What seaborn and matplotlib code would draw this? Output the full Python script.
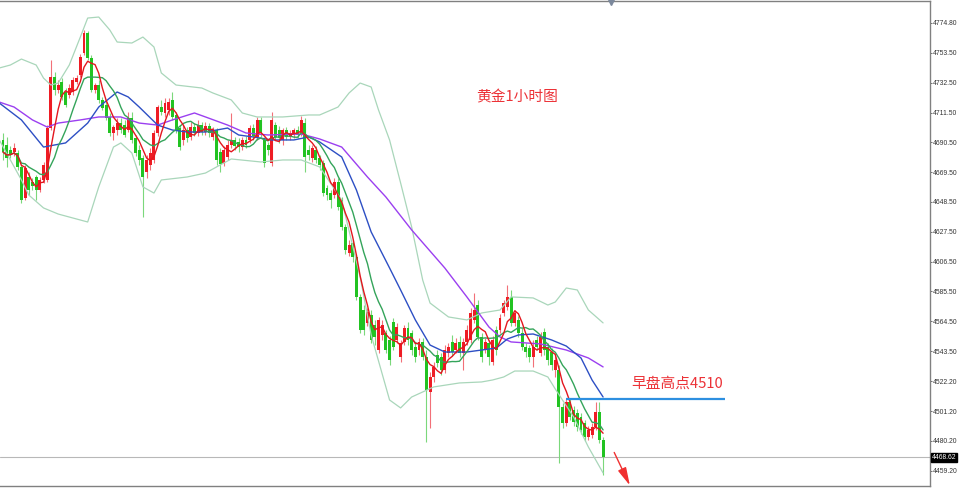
import numpy as np
import pandas as pd
import matplotlib
matplotlib.use("Agg")
import matplotlib.pyplot as plt
import matplotlib.transforms as mtransforms
import seaborn as sns

# gold 1h candles (price units)
opens = [4692.2, 4688.6, 4685.1, 4683.7, 4683.0, 4673.2, 4651.3, 4666.1, 4662.6, 4666.1,
         4656.9, 4664.0, 4664.0, 4700.6, 4736.6, 4727.4, 4733.0, 4726.0, 4723.9, 4726.0,
         4733.0, 4738.0, 4753.5, 4767.6, 4749.9, 4727.4, 4730.9, 4720.4, 4716.8, 4708.4,
         4697.1, 4699.2, 4704.1, 4702.7, 4699.2, 4707.7, 4693.6, 4685.1, 4679.5, 4669.6,
         4674.6, 4678.1, 4697.1, 4715.4, 4711.2, 4713.3, 4720.4, 4709.8, 4700.6, 4692.2,
         4699.2, 4694.3, 4701.3, 4697.1, 4702.7, 4697.8, 4702.0, 4694.3, 4699.2, 4683.7,
         4676.0, 4680.2, 4688.6, 4692.2, 4690.8, 4687.2, 4692.2, 4692.2, 4700.6, 4694.3,
         4706.3, 4692.2, 4688.6, 4676.0, 4702.7, 4699.2, 4692.2, 4699.2, 4694.3, 4695.7,
         4699.2, 4697.1, 4704.1, 4685.1, 4679.5, 4685.1, 4679.5, 4676.0, 4658.3, 4654.8,
         4653.4, 4662.6, 4649.9, 4630.9, 4612.6, 4619.6, 4609.7, 4581.6, 4572.4, 4563.3,
         4568.9, 4561.8, 4544.2, 4554.8, 4556.2, 4551.3, 4564.0, 4551.3, 4539.3, 4549.9,
         4559.7, 4556.2, 4546.3, 4544.2, 4549.9, 4539.3, 4514.6, 4525.2, 4540.7, 4539.3,
         4530.1, 4542.1, 4549.9, 4544.2, 4549.9, 4542.1, 4549.9, 4551.3, 4565.4, 4575.9,
         4553.4, 4544.2, 4549.2, 4535.8, 4558.3, 4558.3, 4570.3, 4574.5, 4581.6, 4563.3,
         4565.4, 4556.2, 4546.3, 4545.6, 4539.3, 4551.3, 4542.1, 4556.9, 4546.3, 4542.8,
         4530.1, 4530.1, 4504.1, 4492.8, 4507.6, 4502.0, 4499.8, 4497.0, 4492.8, 4482.9,
         4484.3, 4490.0, 4500.5, 4480.8]
highs = [4697.1, 4694.3, 4687.9, 4690.1, 4685.1, 4674.6, 4674.6, 4669.6, 4665.4, 4667.5,
         4666.1, 4676.7, 4702.7, 4748.5, 4740.1, 4734.4, 4735.8, 4728.8, 4731.6, 4736.6,
         4738.0, 4752.8, 4769.7, 4769.0, 4752.1, 4732.3, 4734.4, 4722.5, 4720.4, 4711.2,
         4702.7, 4707.7, 4707.7, 4706.3, 4711.9, 4711.9, 4695.7, 4688.6, 4681.6, 4681.6,
         4686.5, 4699.2, 4716.8, 4720.4, 4721.8, 4721.8, 4726.0, 4711.9, 4702.7, 4702.7,
         4701.3, 4704.9, 4704.1, 4706.3, 4704.9, 4704.9, 4704.1, 4701.3, 4700.6, 4686.5,
         4687.9, 4692.2, 4711.2, 4694.3, 4693.6, 4694.3, 4695.0, 4702.7, 4703.4, 4708.4,
         4708.4, 4694.3, 4690.8, 4711.9, 4704.9, 4702.0, 4700.6, 4701.3, 4699.2, 4700.6,
         4702.0, 4709.1, 4707.7, 4688.6, 4688.6, 4687.9, 4681.6, 4678.1, 4660.5, 4656.9,
         4665.4, 4665.4, 4652.0, 4633.0, 4621.7, 4621.7, 4611.9, 4583.7, 4575.9, 4573.8,
         4572.4, 4565.4, 4567.5, 4565.4, 4558.3, 4554.1, 4566.8, 4563.3, 4551.3, 4561.8,
         4564.0, 4558.3, 4549.2, 4552.7, 4552.7, 4544.2, 4528.7, 4535.8, 4544.2, 4542.1,
         4547.7, 4549.2, 4554.8, 4552.7, 4554.1, 4552.7, 4561.8, 4573.8, 4584.4, 4579.5,
         4556.2, 4552.7, 4551.3, 4554.1, 4561.1, 4569.6, 4579.5, 4590.0, 4586.5, 4572.4,
         4568.2, 4559.7, 4549.2, 4547.7, 4551.3, 4554.1, 4556.9, 4559.7, 4549.2, 4545.6,
         4540.7, 4533.7, 4506.9, 4510.4, 4510.4, 4504.8, 4502.7, 4499.8, 4494.9, 4490.7,
         4492.8, 4507.6, 4507.6, 4482.9]
lows = [4678.1, 4673.2, 4679.5, 4680.9, 4671.0, 4647.8, 4649.9, 4653.4, 4656.9, 4649.9,
        4655.5, 4661.9, 4662.6, 4699.2, 4723.9, 4725.3, 4720.4, 4715.4, 4721.8, 4723.9,
        4731.6, 4736.6, 4752.1, 4748.5, 4726.0, 4725.3, 4718.2, 4713.3, 4706.3, 4695.0,
        4692.2, 4695.7, 4697.1, 4694.3, 4697.8, 4690.1, 4680.9, 4674.6, 4637.9, 4665.4,
        4671.0, 4676.0, 4695.0, 4709.8, 4708.4, 4709.8, 4706.3, 4697.1, 4685.1, 4688.6,
        4690.8, 4692.2, 4695.0, 4695.0, 4695.7, 4695.7, 4694.3, 4692.2, 4674.6, 4669.6,
        4673.9, 4678.1, 4686.5, 4685.1, 4683.7, 4685.1, 4686.5, 4690.1, 4692.2, 4692.2,
        4694.3, 4673.2, 4681.6, 4673.9, 4692.2, 4690.1, 4688.6, 4692.2, 4692.2, 4693.6,
        4693.6, 4695.0, 4669.6, 4678.1, 4676.7, 4676.0, 4671.0, 4652.7, 4649.9, 4644.3,
        4651.3, 4642.9, 4628.8, 4611.9, 4610.5, 4606.2, 4579.5, 4556.2, 4554.8, 4561.1,
        4549.2, 4547.7, 4542.1, 4551.3, 4542.1, 4533.7, 4544.2, 4549.2, 4535.8, 4547.7,
        4547.7, 4540.7, 4535.8, 4540.7, 4537.2, 4479.4, 4489.3, 4521.7, 4532.2, 4526.6,
        4528.0, 4539.3, 4540.0, 4542.1, 4539.3, 4530.1, 4547.7, 4549.2, 4563.3, 4551.3,
        4535.8, 4542.1, 4533.7, 4533.7, 4540.7, 4556.2, 4568.2, 4572.4, 4561.1, 4561.1,
        4553.4, 4544.2, 4539.3, 4535.8, 4532.2, 4544.2, 4540.0, 4540.7, 4533.7, 4530.1,
        4525.2, 4464.6, 4489.3, 4490.7, 4494.9, 4490.7, 4487.2, 4485.1, 4480.1, 4480.8,
        4482.2, 4487.9, 4478.7, 4456.2]
closes = [4683.7, 4679.5, 4682.3, 4686.6, 4673.2, 4649.9, 4672.5, 4656.9, 4659.8, 4656.9,
          4664.0, 4674.6, 4700.6, 4736.6, 4727.4, 4730.9, 4722.5, 4716.8, 4728.8, 4734.4,
          4735.8, 4750.6, 4767.6, 4749.9, 4727.4, 4730.9, 4720.4, 4714.7, 4707.7, 4697.1,
          4701.3, 4704.1, 4699.2, 4695.7, 4707.7, 4692.2, 4683.0, 4678.1, 4666.1, 4678.1,
          4683.0, 4697.1, 4715.4, 4711.9, 4718.2, 4718.9, 4708.4, 4699.2, 4687.2, 4699.2,
          4693.6, 4701.3, 4697.1, 4702.7, 4697.8, 4702.0, 4697.1, 4699.2, 4678.1, 4675.3,
          4685.1, 4688.6, 4692.2, 4687.9, 4687.2, 4692.2, 4688.6, 4700.6, 4695.0, 4706.3,
          4697.1, 4676.0, 4685.1, 4706.3, 4694.3, 4693.6, 4699.2, 4694.3, 4697.1, 4699.2,
          4695.7, 4706.3, 4680.2, 4681.6, 4686.5, 4678.1, 4674.6, 4654.8, 4653.4, 4649.9,
          4662.6, 4645.0, 4630.9, 4614.7, 4618.2, 4609.7, 4581.6, 4558.3, 4558.3, 4571.0,
          4551.3, 4553.4, 4565.4, 4561.8, 4544.2, 4537.2, 4546.3, 4560.4, 4549.2, 4559.7,
          4551.3, 4544.2, 4539.3, 4549.9, 4539.3, 4516.0, 4525.2, 4532.2, 4535.1, 4530.1,
          4544.2, 4546.3, 4542.8, 4549.2, 4542.1, 4549.9, 4558.3, 4570.3, 4572.4, 4553.4,
          4539.3, 4549.9, 4539.3, 4551.3, 4544.2, 4566.8, 4577.3, 4581.6, 4563.3, 4570.3,
          4556.2, 4546.3, 4542.8, 4539.3, 4546.3, 4546.3, 4553.4, 4544.2, 4537.2, 4533.7,
          4537.2, 4504.1, 4492.8, 4507.6, 4497.0, 4493.5, 4490.0, 4487.9, 4482.9, 4487.9,
          4490.0, 4500.5, 4480.8, 4468.62]

# indicator lines read as knots (bar index, price)
blue_bar = [-1, 5, 11, 17, 23, 26, 31, 34, 37, 42, 46, 50, 55, 61, 64, 68, 73, 79, 83, 86,
            92, 96, 100, 105, 108, 112, 116, 120, 126, 130, 134, 137, 140, 144, 149, 153, 157, 160, 163]
blue_val = [4718.2, 4706.3, 4687.2, 4690.1, 4704.1, 4715.4, 4726.0, 4722.5, 4715.4, 4702.7,
            4699.2, 4697.8, 4697.8, 4700.6, 4695.7, 4694.3, 4692.2, 4692.2, 4694.3, 4690.8,
            4680.2, 4656.9, 4627.4, 4602.0, 4586.5, 4565.4, 4547.7, 4542.8, 4542.8, 4544.2,
            4545.6, 4552.0, 4554.8, 4555.5, 4551.3, 4547.0, 4538.6, 4523.1, 4511.1]
purple_bar = [-1, 3, 8, 12, 15, 21, 26, 32, 37, 42, 46, 52, 55, 61, 66, 72, 81, 86, 92, 99,
              104, 111, 120, 126, 132, 135, 138, 146, 153, 159, 163]
purple_val = [4718.9, 4715.4, 4706.3, 4701.3, 4704.1, 4706.3, 4708.4, 4708.4, 4704.1, 4702.7,
              4706.3, 4711.2, 4708.4, 4702.7, 4697.1, 4695.7, 4696.4, 4692.9, 4687.2, 4666.1,
              4652.0, 4628.8, 4602.0, 4581.6, 4560.4, 4553.4, 4549.9, 4548.5, 4544.2, 4538.6, 4532.3]
upper_bar = [-1, 2, 5, 9, 11, 13, 15, 18, 21, 23, 26, 29, 31, 35, 38, 41, 43, 47, 54, 57,
             62, 65, 69, 76, 83, 86, 91, 94, 97, 100, 102, 105, 108, 111, 114, 116, 121, 126, 130, 135,
             138, 144, 148, 150, 153, 156, 159, 163]
upper_val = [4742.9, 4745.0, 4749.2, 4745.0, 4735.8, 4730.9, 4732.3, 4745.0, 4764.7, 4778.1,
             4778.8, 4769.7, 4761.2, 4760.5, 4764.7, 4757.7, 4739.4, 4730.9, 4728.8, 4725.3,
             4720.4, 4711.2, 4708.4, 4708.4, 4709.8, 4709.8, 4715.4, 4725.3, 4732.3, 4729.5,
             4713.3, 4692.2, 4661.9, 4630.9, 4593.5, 4577.3, 4567.5, 4565.4, 4570.3, 4572.4,
             4581.6, 4580.9, 4575.9, 4578.0, 4587.9, 4586.5, 4572.4, 4563.3]
lower_bar = [-1, 2, 5, 7, 11, 15, 23, 26, 30, 32, 35, 38, 41, 43, 50, 55, 59, 62, 70, 76,
             81, 86, 92, 97, 100, 105, 108, 111, 117, 124, 130, 133, 136, 139, 144, 148, 150, 155, 159, 163]
lower_val = [4692.2, 4678.1, 4664.0, 4653.4, 4644.3, 4640.0, 4634.4, 4659.1, 4687.2, 4690.1,
             4683.0, 4659.1, 4654.8, 4664.0, 4666.1, 4668.9, 4674.6, 4678.8, 4676.7, 4678.1,
             4678.1, 4673.2, 4649.9, 4595.7, 4554.8, 4509.0, 4503.4, 4511.1, 4518.2, 4521.0,
             4521.7, 4523.1, 4525.2, 4529.4, 4529.4, 4525.2, 4516.8, 4497.0, 4475.9, 4457.6]

tick_vals = [4774.80, 4753.50, 4732.50, 4711.50, 4690.50, 4669.50, 4648.50, 4627.50,
             4606.50, 4585.50, 4564.50, 4543.50, 4522.20, 4501.20, 4480.20, 4459.20]
last_price = 4468.62
morning_high = 4510

sns.set_theme(style="white")
plt.rcParams["font.family"] = ["Noto Sans CJK SC", "DejaVu Sans"]

df = pd.DataFrame({"open": opens, "high": highs, "low": lows, "close": closes})
df["bar"] = np.arange(len(df))
df["high"] = np.maximum(df["high"], df[["open", "close"]].max(axis=1))
df["low"] = np.minimum(df["low"], df[["open", "close"]].min(axis=1))
df["ma5"] = df["close"].rolling(5, min_periods=1).mean()
df["ma10"] = df["close"].rolling(10, min_periods=1).mean()

fig = plt.figure(figsize=(9.59, 4.88), dpi=100)
ax = fig.add_axes([0, 2 / 488, 930 / 959, 485 / 488])

# candles: red = up, green = down
up = df["close"] >= df["open"]
for mask, body_c, wick_c in [(up, "#ee1c24", "#f27078"), (~up, "#22c322", "#7bd87b")]:
    d = df[mask]
    ax.vlines(d["bar"], d["low"], d["high"], colors=wick_c, linewidth=0.8, zorder=2)
    h = (d["close"] - d["open"]).abs().clip(lower=0.7)
    ax.bar(d["bar"], h, bottom=d[["open", "close"]].min(axis=1), width=0.8,
           color=body_c, linewidth=0, zorder=2.5)

band_c = "#a9d6ba"
sns.lineplot(x=upper_bar, y=upper_val, ax=ax, color=band_c, linewidth=0.9, zorder=3)
sns.lineplot(x=lower_bar, y=lower_val, ax=ax, color=band_c, linewidth=0.9, zorder=3)
sns.lineplot(x=purple_bar, y=purple_val, ax=ax, color="#9b3ff0", linewidth=1.0, zorder=3)
sns.lineplot(x=blue_bar, y=blue_val, ax=ax, color="#2d4fc4", linewidth=1.0, zorder=3)
sns.lineplot(x=df["bar"], y=df["ma10"], ax=ax, color="#34a45a", linewidth=1.0, zorder=3.5)
sns.lineplot(x=df["bar"], y=df["ma5"], ax=ax, color="#e3161e", linewidth=1.0, zorder=4)

ax.axhline(last_price, color="#b8b8b8", linewidth=0.8, zorder=1)
ax.hlines(morning_high, 152.9, 196.1, color="#2d8fe0", linewidth=1.6, zorder=5)

ax.text(139.6, 4722.5, "黄金1小时图", color="#ec3237", fontsize=10.6, ha="center", va="center")
ax.text(183.2, 4520.3, "早盘高点4510", color="#ec3237", fontsize=10.6, ha="center", va="center")

ax.annotate("", xy=(170.6, 4447.0), xytext=(165.7, 4473.8),
            arrowprops=dict(arrowstyle="-|>,head_length=0.9,head_width=0.22",
                            color="#f03030", lw=1.0),
            annotation_clip=False)
ax.plot([165.2], [4790.1], marker="v", color="#7b889c", markersize=6, clip_on=False, zorder=6)

ax.set_xlim(-0.82, 251.8)
ax.set_ylim(4448.4, 4790.1)
ax.set_xticks([])
ax.yaxis.tick_right()
ax.set_yticks(tick_vals)
ax.set_yticklabels([f"{v:.2f}" for v in tick_vals], fontfamily="Liberation Sans",
                   fontsize=4.9, color="#333333")
ax.tick_params(axis="y", direction="out", length=1.5, width=0.6, pad=0.6, colors="#555555",
               labelcolor="#333333")
ax.set_xlabel("")
ax.set_ylabel("")
ax.spines["left"].set_visible(False)
for s in ["top", "right", "bottom"]:
    ax.spines[s].set_color("#808080")
    ax.spines[s].set_linewidth(1.0)

trans = mtransforms.blended_transform_factory(ax.transAxes, ax.transData)
ax.text(1.002, last_price, f"{last_price:.2f}", transform=trans, ha="left", va="center",
        fontsize=4.9, fontfamily="Liberation Sans", color="white",
        bbox=dict(boxstyle="square,pad=0.12", fc="black", ec="black"))

fig.savefig("out.png", dpi=100)
